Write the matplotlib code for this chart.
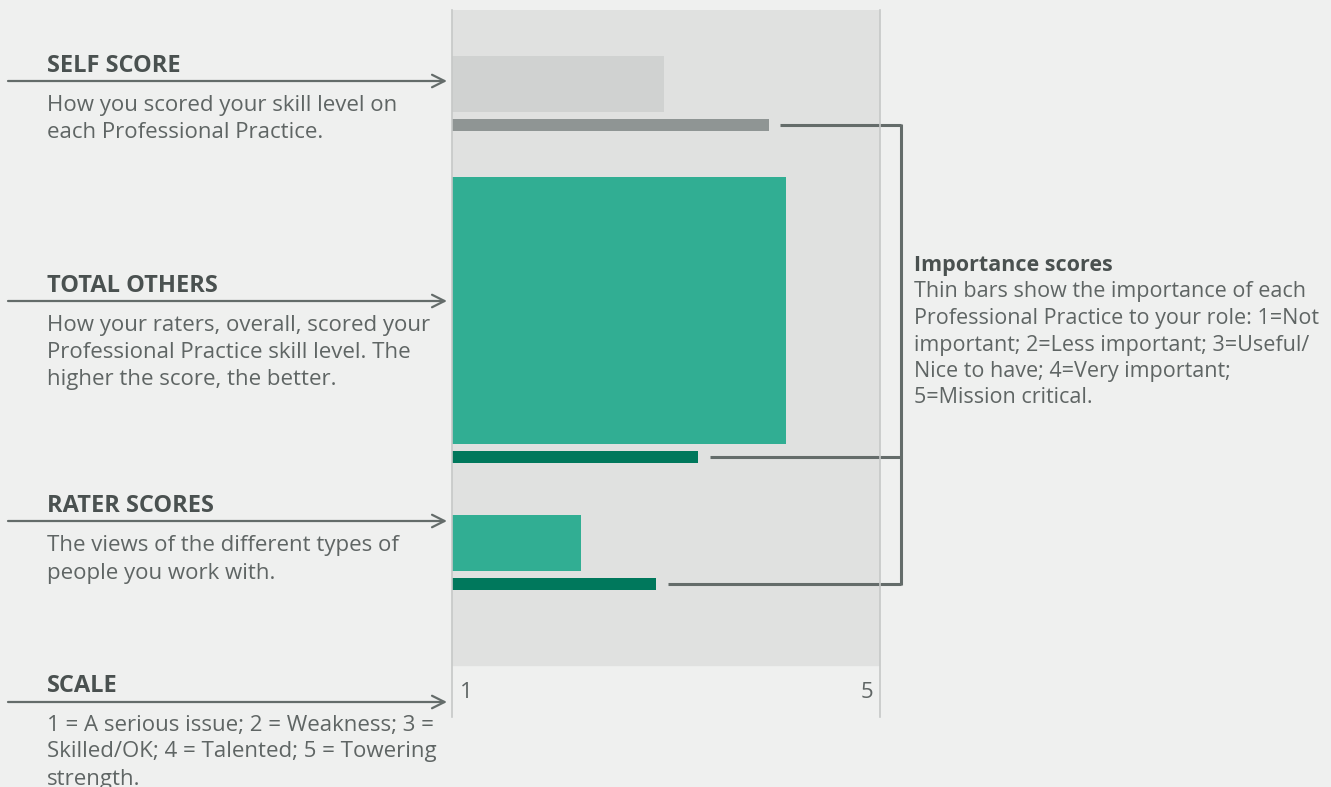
import matplotlib.pyplot as plt

W, H = 1331, 787

# scores on the 1-5 scale
bar_labels = ["Self score", "Total others", "Rater scores"]
skill_scores = [2.98, 4.12, 2.21]
importance_scores = [3.96, 3.30, 2.91]
scale_ticks = [1, 5]

bg = "#eff0ef"
panel = "#e0e1e0"
wide_colors = ["#d0d2d1", "#31ae93", "#31ae93"]
thin_colors = ["#8f9594", "#00785c", "#00785c"]
line_col = "#646c6a"
head_col = "#4a5150"
text_col = "#5f6564"

# vertical layout of the bars (pixel rows of the picture)
wide_y = [84, 310.5, 543]
wide_h = [56, 267, 56]
thin_y = [125, 457, 584]
thin_h = 12

plt.rcParams['font.family'] = ['Open Sans', 'DejaVu Sans']
FS = 16
HS = 17

fig = plt.figure(figsize=(W / 100, H / 100), dpi=100, facecolor=bg)

ax = fig.add_axes([452 / W, 1 - 717 / H, 428 / W, 707 / H])
ax.set_facecolor("none")
ax.set_xlim(1, 5)
ax.set_ylim(717, 10)
ax.axhspan(10, 665, color=panel, zorder=0)
for s in ["top", "bottom"]:
    ax.spines[s].set_visible(False)
for s in ["left", "right"]:
    ax.spines[s].set_color("#c6c8c7")
    ax.spines[s].set_linewidth(1.2)
ax.set_xticks([])
ax.set_yticks([])

lo = scale_ticks[0]
ax.barh(wide_y, [v - lo for v in skill_scores], height=wide_h, left=lo,
        color=wide_colors, zorder=2)
ax.barh(thin_y, [v - lo + 0.02 for v in importance_scores], height=thin_h,
        left=lo - 0.02, color=thin_colors, zorder=2)

# bracket linking the importance bars to the note
bx = 5.2
for v, y in zip(importance_scores, thin_y):
    ax.plot([v + 0.11, bx], [y, y], color=line_col, lw=2.2, clip_on=False,
            solid_capstyle="butt")
ax.plot([bx, bx], [thin_y[0] - 1, thin_y[-1] + 1], color=line_col, lw=2.2,
        clip_on=False, solid_capstyle="butt")

# scale labels
ax.annotate(str(scale_ticks[0]), xy=(scale_ticks[0], 693), xytext=(8, 0),
            textcoords="offset pixels", ha="left", va="center", fontsize=FS,
            color=text_col)
ax.annotate(str(scale_ticks[1]), xy=(scale_ticks[1], 693), xytext=(-7, 0),
            textcoords="offset pixels", ha="right", va="center", fontsize=FS,
            color=text_col)


def fx(x):
    return x / W


def fy(y):
    return 1 - y / H


def para(x, y0, lines, size=FS, step=27):
    # one line at a time
    for i, line in enumerate(lines):
        fig.text(fx(x), fy(y0 + i * step), line, fontsize=size, color=text_col,
                 va="center", ha="left")


sections = [
    ("SELF SCORE", 63, 81, ["How you scored your skill level on",
                            "each Professional Practice."], 104),
    ("TOTAL OTHERS", 283, 301, ["How your raters, overall, scored your",
                                "Professional Practice skill level. The",
                                "higher the score, the better."], 324),
    ("RATER SCORES", 503, 521, ["The views of the different types of",
                                "people you work with."], 544),
    ("SCALE", 684, 702, ["1 = A serious issue; 2 = Weakness; 3 =",
                         "Skilled/OK; 4 = Talented; 5 = Towering",
                         "strength."], 723),
]

for head, hy, ay, body, by in sections:
    fig.text(fx(47), fy(hy + 2.5), head, fontsize=HS, fontweight="bold",
             color=head_col, va="center", ha="left")
    para(47, by + 2, body)
    ax.annotate("", xy=(fx(447), fy(ay)), xytext=(fx(8), fy(ay)),
                xycoords="figure fraction", textcoords="figure fraction",
                arrowprops=dict(arrowstyle="->,head_length=0.9,head_width=0.45",
                                color=line_col, lw=1.6, shrinkA=0, shrinkB=0))

fig.text(fx(914), fy(266), "Importance scores", fontsize=15.5, fontweight="bold",
         color=head_col, va="center", ha="left")
para(914, 292, ["Thin bars show the importance of each",
                "Professional Practice to your role: 1=Not",
                "important; 2=Less important; 3=Useful/",
                "Nice to have; 4=Very important;",
                "5=Mission critical."], size=15.5, step=26.5)

fig.savefig("out.png", dpi=100, facecolor=bg)
